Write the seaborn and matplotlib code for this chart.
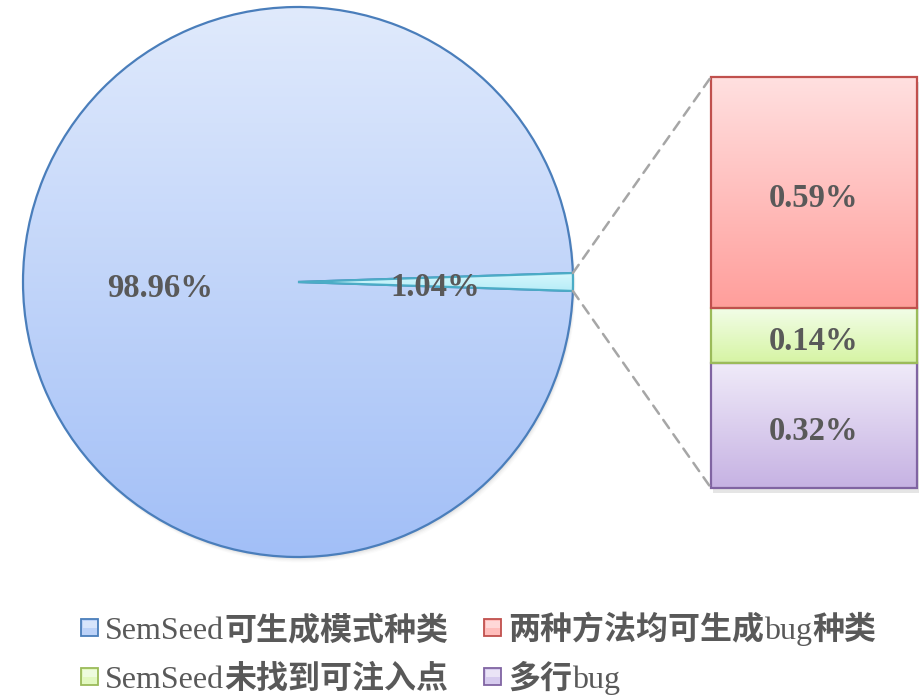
import numpy as np
import matplotlib
matplotlib.use("Agg")
import matplotlib.pyplot as plt
import seaborn as sns
from matplotlib.colors import LinearSegmentedColormap
from matplotlib.patches import Circle, ConnectionPatch, Rectangle
from matplotlib.font_manager import FontProperties
from matplotlib.offsetbox import (AnchoredOffsetbox, DrawingArea, HPacker,
                                  TextArea, VPacker)
from matplotlib.transforms import ScaledTranslation

# ---- data -------------------------------------------------------------
main_label = "SemSeed可生成模式种类"
pie_values = [1.04, 98.96]            # [breakdown share, main share]
breakdown_labels = ["多行bug", "SemSeed未找到可注入点", "两种方法均可生成bug种类"]
breakdown_values = [0.32, 0.14, 0.59]  # bottom -> top of the stacked bar

# ---- styling ----------------------------------------------------------
sns.set_theme(style="white")
plt.rcParams["font.family"] = ["Liberation Serif", "Noto Sans CJK SC", "DejaVu Sans"]
TEXT = "#595959"
VALUE_FONT = dict(family=["Liberation Serif"], size=23.5, weight="bold", color=TEXT)
LATIN_FP = FontProperties(family=["Liberation Serif"], size=23)
CJK_FP = FontProperties(family=["Noto Sans CJK SC"], size=23, weight="bold")

main_grad = ("#e0eafc", "#a2bff7")
main_edge = "#4a7ebb"
small_grad = ("#d8f8fd", "#b4ecf7")
small_edge = "#4bacc6"
bar_grads = [("#f0ebf9", "#c6b2e3"), ("#f2fde8", "#d6f4a3"), ("#ffe0e0", "#ff9e9b")]
bar_edges = ["#8064a2", "#9bbb59", "#c0504d"]

W, H = 922, 696
fig = plt.figure(figsize=(W / 100, H / 100), dpi=100)
pt = lambda px: px * 72 / 100          # pixels -> points
shift_down = ScaledTranslation(0, -6 / 100, fig.dpi_scale_trans)


def gradient_fill(ax, patch, top, bottom, extent):
    cmap = LinearSegmentedColormap.from_list("g", [bottom, top])
    grad = np.linspace(1, 0, 256).reshape(-1, 1)
    im = ax.imshow(grad, cmap=cmap, vmin=0, vmax=1, extent=extent,
                   aspect="auto", origin="upper", zorder=patch.get_zorder() - 0.5,
                   interpolation="bilinear")
    im.set_clip_path(patch)
    patch.set_facecolor("none")


# ---- pie --------------------------------------------------------------
cx, cy, R, lim = 298, 282, 275, 1.02
side = 2 * lim * R
ax = fig.add_axes([(cx - side / 2) / W, 1 - (cy + side / 2) / H, side / W, side / H])

# soft drop shadow under the pie
for k, a in zip(range(1, 6), [0.10, 0.08, 0.06, 0.04, 0.03]):
    ax.add_patch(Circle((0.002 * k, -0.004 * k), 1.0, color="#808080", alpha=a,
                        lw=0, zorder=-2))

start = -pie_values[0] / sum(pie_values) * 360 / 2
wedges, _, autotexts = ax.pie(
    pie_values, startangle=start, radius=1, center=(0, 0),
    autopct="%.2f%%", pctdistance=0.5, labels=None,
    wedgeprops=dict(linewidth=1.6),
)
small_w, main_w = wedges
main_w.set_edgecolor(main_edge)
main_w.set_zorder(1)
small_w.set_edgecolor(small_edge)
small_w.set_zorder(2)
gradient_fill(ax, main_w, main_grad[0], main_grad[1], (-1, 1, -1, 1))
gradient_fill(ax, small_w, small_grad[0], small_grad[1], (0, 1, -0.04, 0.04))
for t in autotexts:
    t.set(**VALUE_FONT)
    t.set_zorder(5)
    t.set_transform(ax.transData + shift_down)
ax.set_xlim(-lim, lim)
ax.set_ylim(-lim, lim)
ax.set_aspect("equal")
ax.axis("off")

# ---- stacked bar ------------------------------------------------------
bx0, bx1, by0, by1 = 711, 917, 77, 488
ax2 = fig.add_axes([bx0 / W, 1 - by1 / H, (bx1 - bx0) / W, (by1 - by0) / H])
total = sum(breakdown_values)
ax2.add_patch(Rectangle((-0.49, -0.012 * total), 1.0, total, color="#9a9a9a",
                        alpha=0.25, lw=0, zorder=-2, clip_on=False))
bottom = 0.0
for v, (top_c, bot_c), ec in zip(breakdown_values, bar_grads, bar_edges):
    bar = ax2.bar(0, v, bottom=bottom, width=1.0, edgecolor=ec, linewidth=1.6,
                  clip_on=False, zorder=2)[0]
    gradient_fill(ax2, bar, top_c, bot_c, (-0.5, 0.5, bottom, bottom + v))
    ax2.text(0, bottom + v / 2, f"{v:.2f}%", ha="center", va="center",
             zorder=5, transform=ax2.transData + shift_down, **VALUE_FONT)
    bottom += v
ax2.set_xlim(-0.5, 0.5)
ax2.set_ylim(0, total)
ax2.axis("off")

# ---- connector lines --------------------------------------------------
half = np.deg2rad(pie_values[0] / sum(pie_values) * 360 / 2)
for sgn, yb in ((1, total), (-1, 0)):
    con = ConnectionPatch(xyA=(np.cos(half), sgn * np.sin(half)), coordsA=ax.transData,
                          xyB=(-0.5, yb), coordsB=ax2.transData,
                          color="#a6a6a6", lw=1.8, linestyle=(0, (4, 3)))
    fig.add_artist(con)


# ---- legend (serif Latin, bold CJK, square swatches) ------------------
def text_runs(s):
    runs = []
    for ch in s:
        latin = ch.isascii()
        if runs and runs[-1][1] == latin:
            runs[-1][0] += ch
        else:
            runs.append([ch, latin])
    return runs


def legend_entry(label, face_top, face_bottom, edge):
    da = DrawingArea(pt(24), pt(20), 0, 0)
    sw = Rectangle((0, pt(3)), pt(17), pt(17), lw=1.3, edgecolor=edge,
                   facecolor=face_bottom)
    da.add_artist(sw)
    inner = Rectangle((pt(1.5), pt(11)), pt(14), pt(7.5), lw=0,
                      facecolor=face_top, alpha=0.8)
    da.add_artist(inner)
    parts = [da]
    for run, latin in text_runs(label):
        parts.append(TextArea(run, textprops=dict(
            fontproperties=LATIN_FP if latin else CJK_FP, color=TEXT)))
    return HPacker(children=parts, align="baseline", pad=0, sep=0)


col1 = VPacker(children=[
    legend_entry(main_label, main_grad[0], "#bcd2f8", main_edge),
    legend_entry(breakdown_labels[1], bar_grads[1][0], "#e2f8c0", bar_edges[1]),
], align="left", pad=0, sep=pt(17))
col2 = VPacker(children=[
    legend_entry(breakdown_labels[2], bar_grads[2][0], "#ffbdbb", bar_edges[2]),
    legend_entry(breakdown_labels[0], bar_grads[0][0], "#d6cbee", bar_edges[0]),
], align="left", pad=0, sep=pt(17))
grid = HPacker(children=[col1, col2], align="top", pad=0, sep=pt(36))
legend = AnchoredOffsetbox(loc="upper left", child=grid, pad=0, borderpad=0,
                           frameon=False, bbox_to_anchor=(81 / W, 1 - 614 / H),
                           bbox_transform=fig.transFigure)
fig.add_artist(legend)

fig.savefig("out.png", dpi=100)
